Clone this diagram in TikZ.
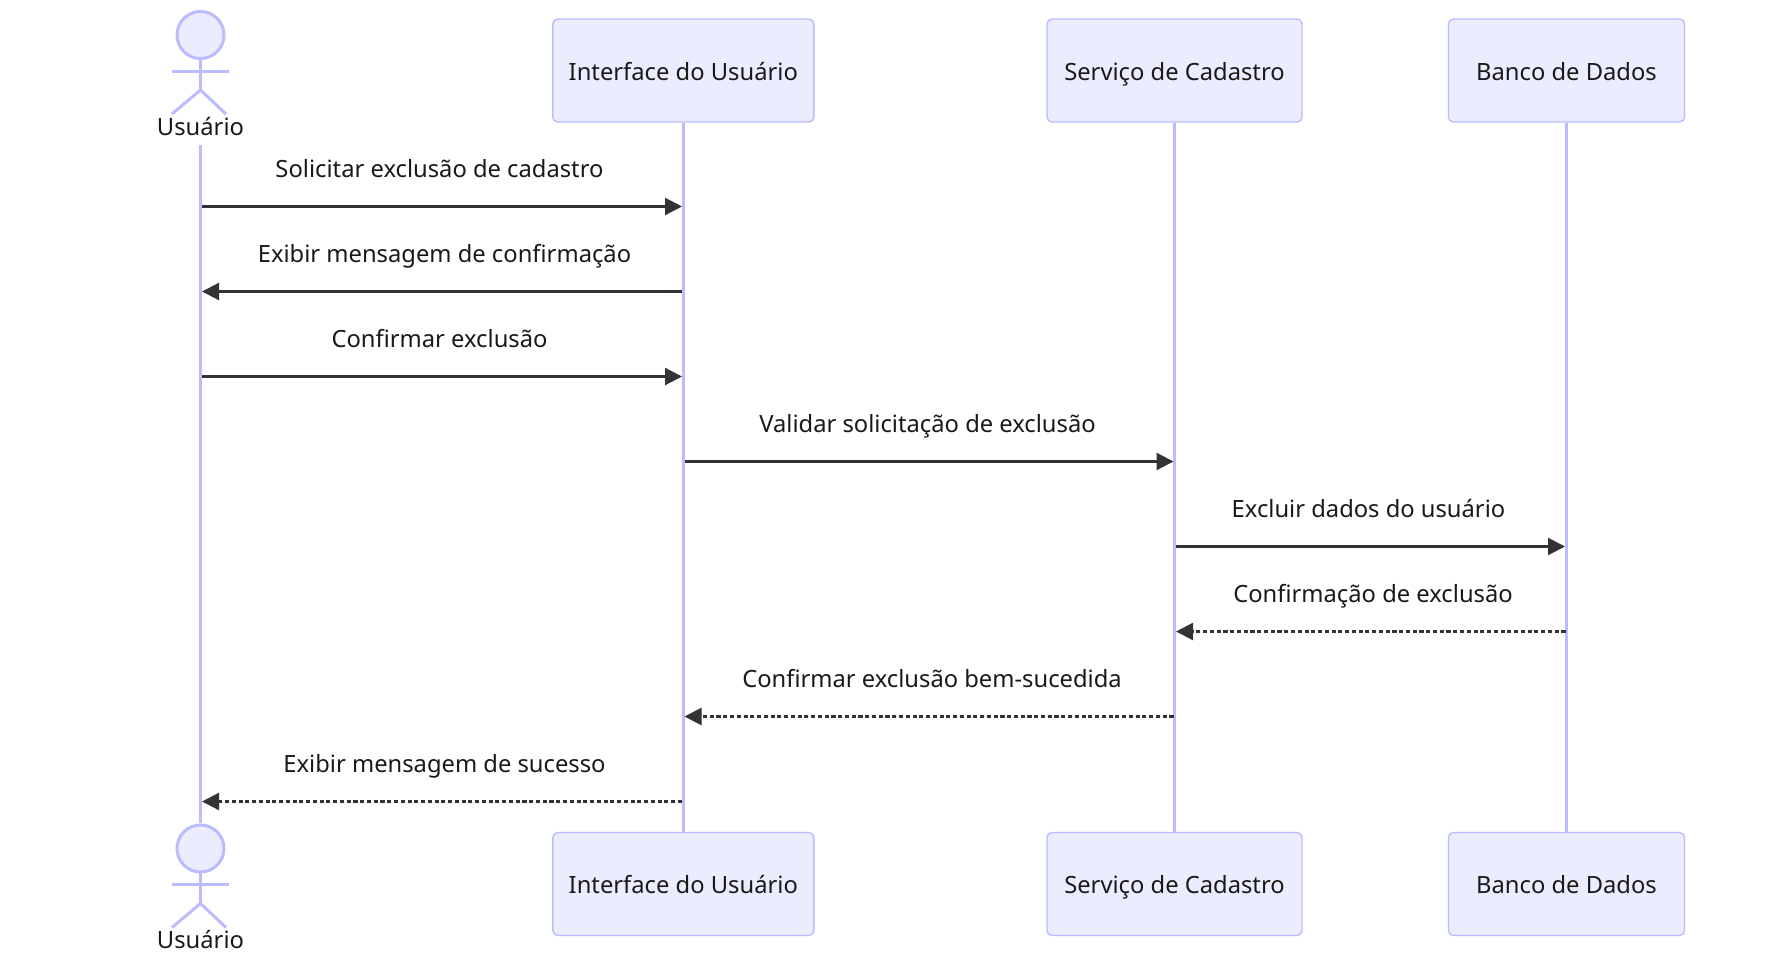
\documentclass[tikz,border=0pt]{standalone}
\usepackage{fontspec}
\setmainfont{Noto Sans}
\usetikzlibrary{arrows.meta}
\definecolor{lifecol}{HTML}{BBBBFF}
\definecolor{boxfill}{HTML}{ECECFF}
\definecolor{msgcol}{HTML}{333333}
\tikzset{
  x=1pt,y=-1pt,
  txt/.style={font=\fontsize{23.75}{28}\selectfont,text=black!90,inner sep=0pt,anchor=base},
  box/.style={draw=lifecol,fill=boxfill,line width=1.4pt,rounded corners=5pt,minimum height=103pt,inner sep=0pt,text height=24pt,text depth=5pt,font=\fontsize{23.75}{28}\selectfont,text=black!90,anchor=center},
  life/.style={draw=lifecol,line width=3.2pt},
  actorline/.style={draw=lifecol,line width=3pt},
  msg/.style={draw=msgcol,line width=2.2pt,-{Triangle[length=17pt,width=17pt,fill=msgcol]},shorten >=0pt},
  reply/.style={msg,dash pattern=on 4.1pt off 2.66pt},
}
\begin{document}
\begin{tikzpicture}
\useasboundingbox (0,0) rectangle (1767,953);
\fill[white] (0,0) rectangle (1767,953);
% lifelines
\coordinate (uT) at (200.5,145);
\coordinate (uB) at (200.5,823);
\node[box,minimum width=261pt] (iT) at (683.3,70.5) {Interface do Usuário};
\node[box,minimum width=255pt] (sT) at (1174.5,70.5) {Serviço de Cadastro};
\node[box,minimum width=236pt] (bT) at (1566.5,70.5) {Banco de Dados};
\draw[life] (uT) -- (uB);
\coordinate (iB) at (683.3,833);
\coordinate (sB) at (1174.5,833);
\coordinate (bB) at (1566.5,833);
\draw[life] (iT.south) -- (iB);
\draw[life] (sT.south) -- (sB);
\draw[life] (bT.south) -- (bB);
\node[box,minimum width=261pt] (iE) at (683.3,884) {Interface do Usuário};
\node[box,minimum width=255pt] (sE) at (1174.5,884) {Serviço de Cadastro};
\node[box,minimum width=236pt] (bE) at (1566.5,884) {Banco de Dados};
% actors
\foreach \n/\d in {a/0,b/813.5}{
  \begin{scope}[yshift=-\d pt]
    \draw[actorline,fill=boxfill] (200.5,35) circle[radius=23.5];
    \draw[actorline] (200.5,58.5) -- (200.5,90);
    \draw[actorline] (172,71) -- (228.5,71);
    \draw[actorline] (172,114) -- (200.5,90) -- (226,114);
  \end{scope}
}
\node[txt] (ua) at (200.5,135) {Usuário};
\node[txt] (ub) at (200.5,948.5) {Usuário};
% message end points
\coordinate (m1a) at (202,206.5);   \coordinate (m1b) at (682,206.5);
\coordinate (m2a) at (682,291.5);   \coordinate (m2b) at (202,291.5);
\coordinate (m3a) at (202,376.5); \coordinate (m3b) at (682,376.5);
\coordinate (m4a) at (684.5,461.5); \coordinate (m4b) at (1173.5,461.5);
\coordinate (m5a) at (1176,546.5); \coordinate (m5b) at (1565,546.5);
\coordinate (m6a) at (1565.5,631.5); \coordinate (m6b) at (1176,631.5);
\coordinate (m7a) at (1173.5,716.5); \coordinate (m7b) at (684.5,716.5);
\coordinate (m8a) at (682,801.5); \coordinate (m8b) at (202,801.5);
\draw[msg] (m1a) -- (m1b);
\draw[msg] (m2a) -- (m2b);
\draw[msg] (m3a) -- (m3b);
\draw[msg] (m4a) -- (m4b);
\draw[msg] (m5a) -- (m5b);
\draw[reply] (m6a) -- (m6b);
\draw[reply] (m7a) -- (m7b);
\draw[reply] (m8a) -- (m8b);
\node[txt] (l1) at (439.5,177) {Solicitar exclusão de cadastro};
\node[txt] (l2) at (444.5,262) {Exibir mensagem de confirmação};
\node[txt] (l3) at (439.5,347) {Confirmar exclusão};
\node[txt] (l4) at (927.5,432) {Validar solicitação de exclusão};
\node[txt] (l5) at (1368.5,517) {Excluir dados do usuário};
\node[txt] (l6) at (1373,602) {Confirmação de exclusão};
\node[txt] (l7) at (932,687) {Confirmar exclusão bem-sucedida};
\node[txt] (l8) at (444.5,772) {Exibir mensagem de sucesso};
\end{tikzpicture}
\end{document}
